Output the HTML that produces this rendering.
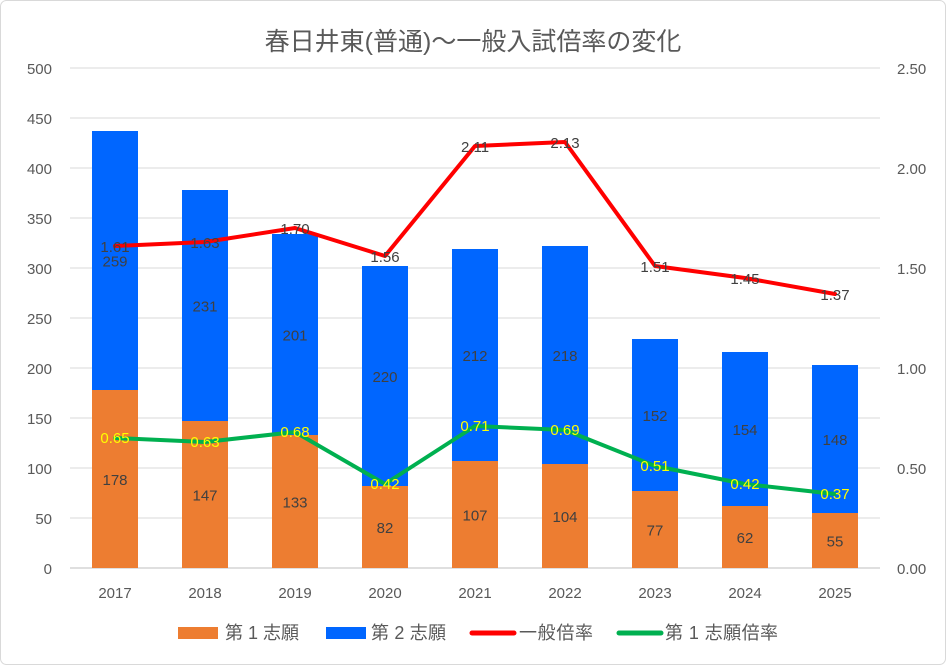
<!DOCTYPE html>
<html><head><meta charset="utf-8"><style>
body{margin:0;background:#fff;}
svg text{font-family:"Liberation Sans","Noto Sans CJK JP",sans-serif;}
</style></head><body>
<svg id="c" width="946" height="665">
<rect x="0.5" y="0.5" width="945" height="664" rx="6" fill="#fff" stroke="#d9d9d9"/>
<text x="473" y="50" text-anchor="middle" font-size="25" fill="#595959">春日井東(普通)～一般入試倍率の変化</text>
<g id="grid"></g><g id="bars"></g><g id="lines"></g><g id="labels"></g><g id="axes"></g>
<g font-size="18" fill="#595959">
<rect x="178" y="627" width="40" height="12" fill="#ed7d31"/>
<text x="225" y="639" textLength="74" fill="#595959">第 1 志願</text>
<rect x="326" y="627" width="40" height="12" fill="#0066ff"/>
<text x="371" y="639" textLength="75" fill="#595959">第 2 志願</text>
<line x1="472" y1="633" x2="514" y2="633" stroke="#ff0000" stroke-width="5" stroke-linecap="round"/>
<text x="519" y="639" textLength="74" fill="#595959">一般倍率</text>
<line x1="619" y1="633" x2="661" y2="633" stroke="#00b050" stroke-width="5" stroke-linecap="round"/>
<text x="665" y="639" textLength="113" fill="#595959">第 1 志願倍率</text>
</g>
</svg>
<script>
const categories=["2017","2018","2019","2020","2021","2022","2023","2024","2025"];
const firstChoice=[178,147,133,82,107,104,77,62,55];
const secondChoice=[259,231,201,220,212,218,152,154,148];
const generalRatio=[1.61,1.63,1.70,1.56,2.11,2.13,1.51,1.45,1.37];
const firstRatio=[0.65,0.63,0.68,0.42,0.71,0.69,0.51,0.42,0.37];
const leftTicks=[0,50,100,150,200,250,300,350,400,450,500];
const rightTicks=["0.00","0.50","1.00","1.50","2.00","2.50"];
const NS="http://www.w3.org/2000/svg";
const L=70,R=880,T=68,B=568;
const yL=v=>B-(v/500)*(B-T);
const yR=v=>B-(v/2.5)*(B-T);
const step=(R-L)/categories.length;
const xC=i=>L+step*(i+0.5);
function mk(p,tag,a){const e=document.createElementNS(NS,tag);for(const k in a)e.setAttribute(k,a[k]);document.getElementById(p).appendChild(e);return e;}
leftTicks.forEach(t=>{
 const g=mk('grid','line',{x1:L,x2:R,y1:yL(t),y2:yL(t),stroke:t===0?'#bfbfbf':'#d9d9d9'});
 
 
 const tx=mk('axes','text',{x:52,y:yL(t)+6,'text-anchor':'end','font-size':'15',fill:'#595959'});tx.textContent=t;
 
 
});
rightTicks.forEach(t=>{
 const tx=mk('axes','text',{x:897,y:yR(+t)+6,'font-size':'15',fill:'#595959'});tx.textContent=t;
 
 
});
const bw=46;
categories.forEach((c,i)=>{
 const x=xC(i)-bw/2;
 const r1=mk('bars','rect',{x:x,y:yL(firstChoice[i]),width:bw,height:B-yL(firstChoice[i]),fill:'#ed7d31'});
 
 
 const top=firstChoice[i]+secondChoice[i];
 const r2=mk('bars','rect',{x:x,y:yL(top),width:bw,height:yL(firstChoice[i])-yL(top),fill:'#0066ff'});
 
 
 const t1=mk('labels','text',{x:xC(i),y:(yL(firstChoice[i])+B)/2+6,'text-anchor':'middle','font-size':'15',fill:'#404040'});t1.textContent=firstChoice[i];
 
 
 const t2=mk('labels','text',{x:xC(i),y:(yL(top)+yL(firstChoice[i]))/2+6,'text-anchor':'middle','font-size':'15',fill:'#404040'});t2.textContent=secondChoice[i];
 
 
 const tx=mk('axes','text',{x:xC(i),y:598,'text-anchor':'middle','font-size':'15',fill:'#595959'});tx.textContent=c;
 
 
});
function line(data,color,name,labColor,dy){
 const p=mk('lines','polyline',{points:data.map((v,i)=>xC(i)+','+yR(v)).join(' '),fill:'none',stroke:color,'stroke-width':'4','stroke-linejoin':'round','stroke-linecap':'round'});
 
 
 data.forEach((v,i)=>{
  const t=mk('labels','text',{x:xC(i),y:yR(v)+dy,'text-anchor':'middle','font-size':'15',fill:labColor});t.textContent=v.toFixed(2);
  
  
 });
}
line(generalRatio,'#ff0000','general-ratio-line','#404040',6);
line(firstRatio,'#00b050','first-ratio-line','#ffff00',5);
</script>
</body></html>
